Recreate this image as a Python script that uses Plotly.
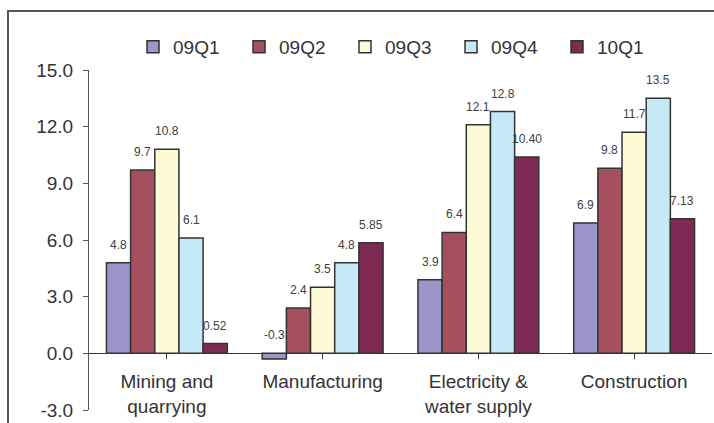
import plotly.graph_objects as go

# Industry groups (category axis) and quarterly growth figures
categories = ["Mining and<br>quarrying", "Manufacturing",
              "Electricity &<br>water supply", "Construction"]
quarters = ["09Q1", "09Q2", "09Q3", "09Q4", "10Q1"]
q09q1 = [4.8, -0.3, 3.9, 6.9]
q09q2 = [9.7, 2.4, 6.4, 9.8]
q09q3 = [10.8, 3.5, 12.1, 11.7]
q09q4 = [6.1, 4.8, 12.8, 13.5]
q10q1 = [0.52, 5.85, 10.40, 7.13]
label_formats = ["{:.1f}", "{:.1f}", "{:.1f}", "{:.1f}", "{:.2f}"]
y_ticks = [-3, 0, 3, 6, 9, 12, 15]
y_tick_labels = ["-3.0", "0.0", "3.0", "6.0", "9.0", "12.0", "15.0"]

series = [q09q1, q09q2, q09q3, q09q4, q10q1]
colors = ["#9b95c9", "#a4505f", "#fffad6", "#c6e9f8", "#7f2a55"]

W, H = 714, 423
M_L, M_R, M_T, M_B = 89, 2, 70, 13
PW, PH = W - M_L - M_R, H - M_T - M_B
BARGAP = 0.224
FONT = "Liberation Sans, Arial, sans-serif"
TXT = "#333333"


def px_to_paper_x(px):
    return (px - M_L) / PW


def px_to_paper_y(py):
    return (H - M_B - py) / PH


fig = go.Figure()
for name, vals, col in zip(quarters, series, colors):
    fig.add_trace(go.Bar(
        name=name, x=list(range(len(categories))), y=vals,
        marker=dict(color=col, line=dict(color="#333333", width=1.5)),
    ))

# Value labels above each bar (negative bars are labelled above the zero line)
n = len(series)
slot = (1 - BARGAP) / n
annotations = []
for j, (vals, fmt) in enumerate(zip(series, label_formats)):
    for i, v in enumerate(vals):
        annotations.append(dict(
            x=i + (j - (n - 1) / 2) * slot, y=max(v, 0), xref="x", yref="y",
            text=fmt.format(v), showarrow=False, yanchor="bottom",
            yshift=9, font=dict(family=FONT, size=12, color="#404040"),
        ))

fig.update_layout(
    width=W, height=H,
    margin=dict(l=M_L, r=M_R, t=M_T, b=M_B, pad=0),
    paper_bgcolor="white", plot_bgcolor="white",
    barmode="group", bargap=BARGAP, bargroupgap=0,
    font=dict(family=FONT, color=TXT, size=19),
    showlegend=True,
    legend=dict(
        orientation="h", x=px_to_paper_x(133), xanchor="left",
        y=px_to_paper_y(28), yanchor="top",
        font=dict(family=FONT, size=19, color=TXT),
        entrywidth=61, entrywidthmode="pixels",
        bgcolor="rgba(0,0,0,0)", borderwidth=0,
    ),
    xaxis=dict(
        tickmode="array", tickvals=list(range(len(categories))),
        ticktext=categories, range=[-0.5, len(categories) - 0.5],
        anchor="free", position=(0 - y_ticks[0]) / (y_ticks[-1] - y_ticks[0]),
        showline=True, linecolor="#333333", linewidth=1,
        ticks="outside", tickson="boundaries", ticklen=5,
        tickcolor="#333333", ticklabelstandoff=6,
        showgrid=False, zeroline=False,
        tickfont=dict(family=FONT, size=19, color=TXT),
    ),
    yaxis=dict(
        range=[y_ticks[0], y_ticks[-1]], tickmode="array",
        tickvals=y_ticks, ticktext=y_tick_labels,
        showline=True, linecolor="#555555", linewidth=1,
        ticks="outside", ticklen=5, tickcolor="#555555",
        ticklabelstandoff=6,
        showgrid=False, zeroline=False,
        tickfont=dict(family=FONT, size=19, color=TXT),
    ),
    annotations=annotations,
    shapes=[dict(
        type="rect", xref="paper", yref="paper", layer="above",
        x0=px_to_paper_x(8), x1=px_to_paper_x(W + 20),
        y0=px_to_paper_y(H + 20), y1=px_to_paper_y(11),
        line=dict(color="#555555", width=2), fillcolor="rgba(0,0,0,0)",
    )],
)

fig.write_html("out.html")
